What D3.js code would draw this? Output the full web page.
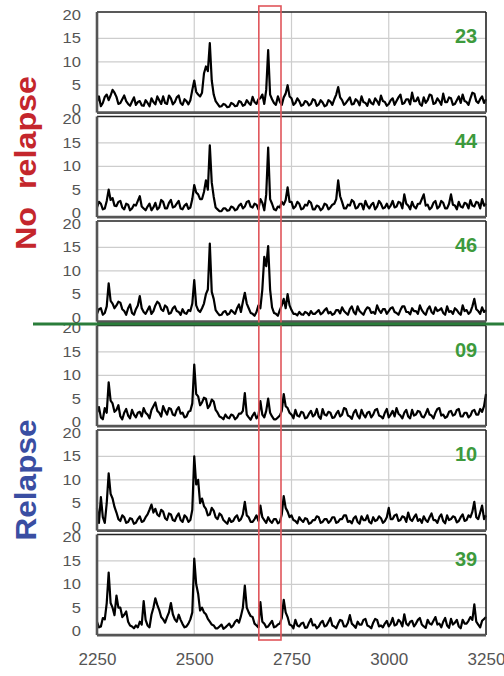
<!DOCTYPE html>
<html>
<head>
<meta charset="utf-8">
<script src="https://d3js.org/d3.v7.min.js"></script>
<style>
body {margin: 0; background: #fff;}
text {font-family: "Liberation Sans", Arial, sans-serif;}
</style>
</head>
<body>
<svg id="chart" width="504" height="676"></svg>
<script>
// m/z grid, one reading every 5 units
const mz = d3.range(2250, 3251, 5);

const sampleIds = ["23", "44", "46", "09", "10", "39"];

// intensities (index 0 = 2250)
const s23 = [
  1.5,2.6, 0.5,1.2, 2.5,3.0, 1.8,2.8, 4.0,3.4, 2.5,1.0, 1.2,2.0, 2.8,1.6, 1.0,0.6, 1.5,2.4,
  0.8,1.4, 1.6,0.7, 0.6,1.8, 1.2,0.5, 2.2,1.4, 0.9,2.6, 1.8,1.0, 2.6,1.2, 1.0,2.8, 2.2,0.9,
  1.4,2.4, 2.8,1.2, 0.8,2.0, 1.6,0.9, 1.8,4.0, 6.0,3.6, 3.0,2.6, 3.4,7.5, 9.0,8.0, 14.0,6.0,
  3.0,1.6, 1.0,0.4, 0.5,1.0, 0.8,0.3, 0.4,1.2, 1.0,0.5, 0.6,1.6, 1.4,0.6, 0.8,1.8, 1.2,0.8,
  2.5,1.4, 1.0,2.0, 2.2,3.0, 1.0,4.0, 12.5,3.0, 2.0,1.2, 0.8,2.6, 1.5,0.8, 2.4,3.2, 5.0,2.6,
  2.2,0.8, 1.2,2.2, 1.6,0.6, 0.8,1.6, 1.4,0.7, 1.0,2.0, 1.8,0.6, 0.9,1.8, 1.3,0.5, 0.7,1.8,
  1.5,0.8, 2.0,3.0, 4.6,2.4, 1.8,0.8, 1.2,1.8, 2.4,0.9, 1.0,2.0, 1.6,0.7, 2.6,1.4, 1.2,0.6,
  2.0,1.2, 0.9,2.2, 1.6,0.8, 2.8,1.6, 1.4,0.6, 1.0,1.8, 2.2,0.8, 1.6,2.4, 3.0,1.0, 1.2,2.0,
  2.0,0.9, 3.4,1.6, 1.6,2.4, 1.0,0.6, 2.4,1.2, 1.8,3.0, 2.8,1.0, 1.2,2.2, 1.6,0.8, 3.2,1.4,
  1.4,2.4, 2.2,0.8, 1.0,1.8, 2.6,1.2, 3.0,1.6, 1.4,0.8, 2.2,3.4, 3.2,1.6, 1.2,2.0, 2.6,1.2,
  2.0];
const s44 = [
  1.2,2.4, 2.0,0.8, 1.0,2.6, 5.0,2.8, 3.2,1.6, 1.5,2.4, 2.6,1.2, 0.8,2.0, 1.8,0.6, 1.0,1.8,
  1.6,2.6, 3.6,1.4, 1.0,0.6, 1.4,2.0, 0.6,1.2, 2.2,0.8, 1.2,2.8, 2.4,1.0, 1.0,2.2, 2.8,1.2,
  1.4,2.0, 2.6,1.0, 0.8,1.6, 2.0,0.9, 1.2,3.0, 6.0,4.4, 4.0,3.0, 3.0,4.5, 7.0,5.0, 14.5,6.5,
  3.5,1.2, 0.8,0.4, 0.4,1.0, 1.0,0.5, 0.6,1.4, 1.2,0.6, 0.8,1.6, 2.0,1.0, 1.4,2.4, 2.6,1.4,
  1.2,2.0, 1.8,0.8, 3.0,2.2, 0.6,4.0, 14.0,3.0, 2.0,0.8, 0.6,1.4, 1.2,2.4, 1.8,2.8, 5.5,2.4,
  2.4,1.0, 1.4,2.4, 2.0,0.8, 1.0,1.8, 1.6,2.6, 2.2,0.8, 0.8,1.6, 1.4,0.6, 1.0,2.0, 1.8,0.8,
  1.2,1.8, 2.0,3.0, 7.0,3.6, 2.4,1.0, 1.0,1.8, 1.6,2.8, 2.4,1.0, 1.2,2.0, 2.0,0.8, 2.6,1.6,
  1.0,1.8, 2.2,0.8, 1.4,2.6, 2.0,1.0, 1.2,2.0, 1.0,1.6, 2.6,1.2, 1.4,2.4, 2.2,1.0, 4.0,2.0,
  1.6,0.8, 2.4,1.4, 1.0,2.0, 2.0,3.0, 4.0,1.6, 1.8,0.8, 1.2,2.2, 2.6,1.0, 1.4,2.6, 2.2,1.0,
  1.0,2.0, 4.0,1.8, 1.6,0.8, 2.4,1.4, 1.2,2.2, 2.0,1.0, 2.8,1.6, 1.4,2.4, 2.2,1.0, 3.0,1.6,
  2.0];
const s46 = [
  0.8,1.8, 2.0,0.6, 1.0,2.4, 7.3,3.6, 3.0,2.0, 2.6,3.4, 3.2,1.8, 1.4,0.6, 2.0,2.8, 1.0,0.6,
  1.8,2.6, 4.6,2.0, 1.2,0.8, 1.6,2.4, 0.8,1.4, 2.6,3.4, 3.0,1.8, 1.4,2.6, 2.2,0.8, 1.0,2.0,
  2.4,1.4, 1.2,0.6, 1.8,1.0, 0.8,1.6, 1.4,3.0, 8.0,2.6, 1.6,1.2, 2.0,3.0, 5.0,6.0, 15.8,5.5,
  4.0,1.6, 1.0,0.5, 0.6,1.2, 1.4,0.6, 0.8,1.6, 1.2,0.8, 2.0,2.8, 1.2,3.4, 5.3,3.0, 2.0,1.0,
  0.8,0.4, 1.2,2.6, 2.0,6.0, 13.0,11.0, 15.3,6.0, 2.2,1.0, 0.8,0.4, 1.6,2.6, 4.0,2.0, 5.0,2.6,
  1.6,0.8, 0.8,0.5, 1.2,0.7, 0.6,1.2, 1.0,0.5, 1.4,0.8, 0.8,1.2, 1.6,0.7, 1.0,1.6, 2.0,0.9,
  1.2,0.6, 0.8,1.6, 1.6,0.9, 2.2,1.4, 1.0,0.6, 1.8,2.4, 1.2,0.7, 2.4,1.4, 1.0,0.6, 1.6,2.2,
  2.0,1.0, 1.2,0.8, 2.6,1.6, 1.0,1.8, 1.8,0.8, 1.4,2.0, 2.2,1.2, 1.0,0.6, 1.6,2.4, 2.4,1.2,
  1.2,0.7, 2.0,1.4, 1.4,0.8, 2.6,1.6, 1.0,0.6, 1.8,2.4, 1.2,0.8, 2.2,1.4, 1.6,2.0, 1.0,0.6,
  2.4,1.2, 1.4,0.8, 2.0,1.6, 1.0,0.6, 2.6,1.4, 1.6,0.8, 1.2,2.4, 4.0,1.8, 1.4,0.8, 2.2,1.2,
  1.6];
const s09 = [
  2.0,3.2, 1.0,0.6, 3.0,2.0, 8.5,4.6, 4.0,2.2, 2.6,3.6, 1.2,0.6, 2.0,2.8, 1.4,0.8, 2.6,1.6,
  1.0,2.0, 2.2,1.2, 3.0,2.0, 1.6,0.8, 2.6,3.4, 4.2,2.4, 2.0,1.2, 3.4,2.4, 1.6,3.0, 2.8,1.6,
  1.4,2.6, 3.2,1.8, 2.0,1.0, 1.2,2.2, 2.4,4.0, 12.3,6.0, 5.5,3.6, 4.2,5.2, 5.0,3.0, 3.6,4.8,
  4.4,2.6, 2.0,1.2, 1.0,0.6, 1.6,1.0, 0.8,1.6, 1.4,0.6, 1.0,1.8, 1.8,2.4, 6.2,1.6, 1.0,0.5,
  1.4,2.0, 0.8,1.4, 4.5,1.6, 1.0,2.4, 5.0,2.0, 1.2,0.6, 0.6,1.0, 1.4,2.4, 6.0,3.4, 3.0,2.0,
  1.6,0.8, 2.6,1.4, 1.2,2.2, 2.0,0.8, 1.0,1.8, 2.4,1.2, 1.6,2.8, 1.2,0.7, 2.8,1.6, 1.4,2.2,
  2.0,0.9, 1.0,1.8, 2.4,1.2, 1.6,3.0, 2.8,1.4, 1.2,0.7, 2.0,2.6, 1.4,0.8, 2.6,1.6, 1.0,2.0,
  2.2,1.0, 1.6,2.6, 2.8,1.4, 1.2,0.8, 2.0,2.8, 1.0,1.6, 2.4,1.2, 3.0,1.8, 1.4,0.8, 2.0,2.6,
  1.2,0.8, 2.6,1.4, 1.6,2.4, 2.2,1.2, 1.0,1.8, 2.8,1.6, 1.4,0.8, 2.0,2.8, 3.0,1.4, 1.6,0.9,
  1.2,2.2, 2.4,1.4, 1.6,2.6, 2.8,1.2, 1.2,2.0, 2.0,1.0, 1.4,2.4, 2.6,1.6, 1.6,2.8, 2.2,3.4,
  6.0];
const s10 = [
  4.0,0.8, 6.3,2.0, 0.8,5.0, 11.4,7.0, 6.0,4.2, 3.0,1.6, 1.2,2.4, 2.0,0.8, 1.0,1.8, 1.6,0.6,
  0.8,1.6, 2.2,1.0, 1.2,2.0, 2.6,3.6, 4.7,3.0, 3.8,2.6, 2.2,3.6, 3.2,1.8, 1.4,2.8, 2.6,1.4,
  1.2,2.2, 2.8,1.4, 1.0,2.4, 2.0,1.0, 1.4,3.6, 15.0,9.0, 10.0,5.0, 6.0,4.4, 3.8,2.4, 2.6,4.0,
  3.4,2.0, 1.6,2.8, 2.4,1.4, 1.0,0.6, 1.8,1.0, 1.2,2.0, 2.4,1.2, 1.6,2.6, 5.3,2.4, 2.0,1.0,
  1.0,1.6, 2.4,1.2, 4.5,2.0, 1.4,0.8, 2.0,1.2, 0.8,1.6, 1.6,0.7, 1.0,2.6, 6.5,4.0, 3.2,2.0,
  2.4,1.4, 1.2,0.7, 2.0,1.4, 1.0,1.8, 1.6,0.6, 0.8,1.4, 1.4,2.2, 2.0,0.8, 1.0,1.6, 1.6,0.8,
  1.2,2.0, 2.0,0.8, 1.0,1.6, 1.6,2.4, 2.4,1.0, 1.2,0.7, 1.8,2.2, 1.0,0.6, 2.2,1.4, 1.4,2.4,
  1.0,0.7, 2.0,1.2, 1.4,2.2, 1.8,0.8, 1.2,2.0, 4.0,1.6, 1.6,2.4, 2.6,1.2, 1.4,2.2, 2.0,1.0,
  3.0,1.6, 1.2,2.0, 2.6,1.2, 1.6,0.8, 2.2,1.4, 1.0,2.0, 2.8,1.4, 1.4,0.8, 2.0,2.6, 1.2,0.7,
  2.4,1.4, 1.6,2.2, 2.0,0.9, 1.2,2.0, 2.6,1.2, 1.4,2.4, 2.0,3.2, 5.3,2.0, 1.6,3.0, 4.5,1.6,
  2.4];
const s39 = [
  2.0,0.8, 1.0,2.8, 2.5,6.0, 12.5,6.0, 5.0,3.4, 7.6,5.0, 5.0,3.0, 3.5,4.2, 2.0,1.2, 1.0,0.6,
  1.2,0.8, 2.0,1.4, 6.4,2.4, 1.2,0.8, 3.5,5.0, 7.0,5.6, 4.5,3.0, 2.5,1.8, 3.0,4.0, 6.0,3.6,
  2.5,2.0, 3.5,2.4, 1.5,0.8, 1.0,1.6, 2.5,4.0, 15.5,10.0, 8.0,4.4, 5.0,4.0, 3.6,2.6, 2.0,1.4,
  1.2,0.6, 0.6,1.0, 1.4,0.5, 0.8,1.2, 1.6,0.8, 1.2,2.0, 2.4,1.8, 3.2,5.0, 9.7,5.0, 4.0,3.2,
  3.0,1.6, 1.2,0.8, 6.2,2.0, 1.6,0.8, 1.0,1.6, 2.2,0.8, 1.0,1.4, 1.6,2.8, 6.7,4.0, 3.0,1.4,
  1.2,0.6, 2.4,1.2, 1.0,1.6, 1.8,0.7, 0.8,1.8, 2.6,1.2, 1.4,0.6, 1.0,1.8, 2.2,1.0, 1.2,2.0,
  2.8,1.2, 1.0,0.6, 1.6,2.4, 2.2,1.0, 1.0,1.8, 3.4,1.6, 1.2,0.7, 2.0,1.4, 1.4,2.4, 2.6,1.2,
  1.0,0.6, 1.8,2.6, 2.4,1.0, 1.2,0.8, 1.6,2.2, 1.0,1.6, 2.8,1.2, 1.4,2.4, 2.0,1.0, 3.6,1.6,
  1.2,2.0, 2.2,1.0, 1.6,2.4, 2.8,1.4, 1.0,0.7, 2.4,1.6, 1.4,2.2, 3.0,1.4, 1.6,0.8, 2.0,2.8,
  1.2,0.7, 2.6,1.4, 1.8,2.4, 1.0,0.6, 2.4,1.6, 1.6,2.2, 3.0,2.4, 5.7,2.0, 1.4,0.8, 2.2,2.6,
  3.0];

const series = [s23, s44, s46, s09, s10, s39];
const xTicks = [2250, 2500, 2750, 3000, 3250];
const yTicks = [0, 5, 10, 15, 20];
const highlightMz = [2666, 2723];

const svg = d3.select("#chart");
const x = d3.scaleLinear().domain([2250, 3250]).range([97, 486]);
const top0 = 15, pitch = 104.5, ph = 93.6;

series.forEach(function(vals, k) {
  var t = top0 + k * pitch;
  var y = d3.scaleLinear().domain([0, 20]).range([t + ph, t]);
  var g = svg.append("g");

  // grid
  g.selectAll(".hg").data([5, 10, 15]).enter().append("line")
    .attr("x1", x(2250)).attr("x2", x(3250))
    .attr("y1", d => y(d)).attr("y2", d => y(d))
    .attr("stroke", "#cdcdcd").attr("stroke-width", 1.2);
  g.selectAll(".vg").data([2500, 2750, 3000]).enter().append("line")
    .attr("x1", d => x(d)).attr("x2", d => x(d))
    .attr("y1", t - 3).attr("y2", t + ph + 4)
    .attr("stroke", "#cdcdcd").attr("stroke-width", 1.2);

  // spectrum
  g.append("path").datum(vals)
    .attr("fill", "none").attr("stroke", "#000").attr("stroke-width", 2.2)
    .attr("stroke-linejoin", "round")
    .attr("d", d3.line().x((d, i) => x(mz[i])).y(d => y(d)));

  // frame: top and right thin black, left and bottom thick grey
  g.append("line").attr("x1", x(2250)).attr("x2", x(3250)).attr("y1", t - 3).attr("y2", t - 3)
    .attr("stroke", "#222").attr("stroke-width", 1.6);
  g.append("line").attr("x1", x(3250)).attr("x2", x(3250)).attr("y1", t - 3).attr("y2", t + ph + 4)
    .attr("stroke", "#222").attr("stroke-width", 1.6);
  g.append("line").attr("x1", x(2250)).attr("x2", x(3250)).attr("y1", t + ph + 4).attr("y2", t + ph + 4)
    .attr("stroke", "#555").attr("stroke-width", 2.6);
  g.append("line").attr("x1", x(2250)).attr("x2", x(2250)).attr("y1", t - 3).attr("y2", t + ph + 4)
    .attr("stroke", "#555").attr("stroke-width", 2.6);

  // y axis labels
  var ax = g.append("g").attr("transform", "translate(" + x(2250) + ",0)")
    .call(d3.axisLeft(y).tickValues(yTicks).tickSize(0).tickPadding(16));
  ax.select(".domain").remove();
  ax.selectAll("text")
    .style("font-size", "14px").attr("fill", "#555")
    .attr("textLength", d => String(d).length * 9.2)
    .attr("lengthAdjust", "spacingAndGlyphs");

  // sample number
  g.append("text").attr("x", 466).attr("y", t + 28)
    .attr("text-anchor", "middle").attr("fill", "#3d9a3d")
    .style("font-size", "20px").style("font-weight", "bold")
    .text(sampleIds[k]);
});

// x axis under the last panel
var xa = svg.append("g").attr("transform", "translate(0," + (top0 + 5 * pitch + ph + 4) + ")")
  .call(d3.axisBottom(x).tickValues(xTicks).tickFormat(d3.format("d")).tickSize(0).tickPadding(18));
xa.select(".domain").remove();
xa.selectAll("text").style("font-size", "17px").attr("fill", "#555");

// highlighted m/z window
svg.append("rect")
  .attr("x", x(highlightMz[0])).attr("width", x(highlightMz[1]) - x(highlightMz[0]))
  .attr("y", 6).attr("height", 634)
  .attr("fill", "none").attr("stroke", "#e0555b").attr("stroke-width", 1.6);

// separator between groups
svg.append("line").attr("x1", 33).attr("x2", 504).attr("y1", 324).attr("y2", 324)
  .attr("stroke", "#2a7d3a").attr("stroke-width", 3.2);

// group labels
svg.append("text").attr("transform", "translate(36,163) rotate(-90)")
  .attr("text-anchor", "middle").attr("fill", "#c4262c")
  .style("font-size", "29px").style("font-weight", "bold").style("white-space", "pre")
  .attr("textLength", 174).attr("lengthAdjust", "spacingAndGlyphs")
  .text("No  relapse");
svg.append("text").attr("transform", "translate(36,480) rotate(-90)")
  .attr("text-anchor", "middle").attr("fill", "#3a4ea2")
  .style("font-size", "29px").style("font-weight", "bold")
  .attr("textLength", 121).attr("lengthAdjust", "spacingAndGlyphs")
  .text("Relapse");
</script>
</body>
</html>
